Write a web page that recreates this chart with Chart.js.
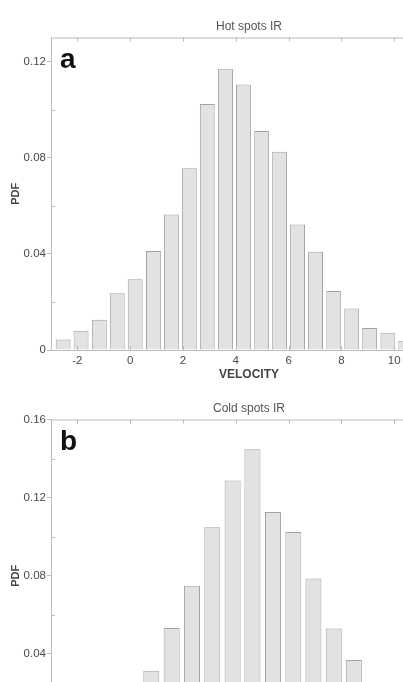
<!DOCTYPE html>
<html>
<head>
<meta charset="utf-8">
<script src="https://cdn.jsdelivr.net/npm/chart.js@4.4.1/dist/chart.umd.min.js"></script>
<style>
  html, body { margin: 0; padding: 0; background: #fff; }
  #wrap { position: relative; width: 403px; height: 682px; overflow: hidden; background: #fff; }
  canvas { position: absolute; left: 0; }
  #hot { top: 0; }
  #cold { top: 382px; }
</style>
</head>
<body>
<div id="wrap">
  <canvas id="hot" width="460" height="390"></canvas>
  <canvas id="cold" width="460" height="390"></canvas>
</div>
<script>
// velocity tick labels (shared by both panels)
const xTicks = [-2, 0, 2, 4, 6, 8, 10, 12];

// panel a - hot spots
const hotVelocity = [-2.54, -1.86, -1.17, -0.49, 0.19, 0.88, 1.56, 2.24, 2.92, 3.61,
                     4.29, 4.98, 5.66, 6.34, 7.02, 7.71, 8.39, 9.07, 9.76, 10.44];
const hotPdf = [0.0044, 0.0080, 0.0126, 0.0236, 0.0294, 0.0412, 0.0564, 0.0756, 0.1023, 0.1170,
                0.1104, 0.0911, 0.0825, 0.0522, 0.0409, 0.0245, 0.0173, 0.0092, 0.0072, 0.0039];
const hotYTicks = [0, 0.04, 0.08, 0.12];
const hotYMinor = [0.02, 0.06, 0.10];

// panel b - cold spots
const coldVelocity = [0.80, 1.57, 2.34, 3.11, 3.88, 4.63, 5.41, 6.18, 6.94, 7.71, 8.47];
const coldPdf = [0.0314, 0.0532, 0.0749, 0.1048, 0.1288, 0.1448, 0.1127, 0.1024, 0.0786, 0.0530, 0.0369];
const coldYTicks = [0, 0.04, 0.08, 0.12, 0.16];
const coldYMinor = [0.02, 0.06, 0.10, 0.14];

Chart.defaults.font.family = "'Liberation Sans', Arial, sans-serif";
Chart.defaults.color = "#555";

const axisGray = "#bbbbbb";

// box frame, inward ticks and the panel letter
const framePlugin = {
    id: "frame",
    afterDraw(chart, args, opts) {
        const ctx = chart.ctx;
        const a = chart.chartArea;
        const x = chart.scales.x, y = chart.scales.y;
        ctx.save();
        ctx.strokeStyle = axisGray;
        ctx.lineWidth = 1;
        ctx.beginPath();
        ctx.moveTo(a.left, a.top + 0.5);
        ctx.lineTo(a.right, a.top + 0.5);
        ctx.moveTo(a.right - 0.5, a.top);
        ctx.lineTo(a.right - 0.5, a.bottom);
        xTicks.forEach(v => {
            const px = Math.round(x.getPixelForValue(v)) + 0.5;
            ctx.moveTo(px, a.bottom);
            ctx.lineTo(px, a.bottom - 4);
            ctx.moveTo(px, a.top);
            ctx.lineTo(px, a.top + 4);
        });
        opts.minor.forEach(v => {
            const py = Math.round(y.getPixelForValue(v)) + 0.5;
            ctx.moveTo(a.left, py);
            ctx.lineTo(a.left + 4, py);
        });
        ctx.stroke();
        ctx.fillStyle = "#111";
        ctx.font = "bold 28px 'Liberation Sans', Arial, sans-serif";
        ctx.textBaseline = "alphabetic";
        ctx.fillText(opts.letter, a.left + 9, a.top + 30);
        ctx.restore();
    }
};

function makePanel(id, title, letter, vel, pdf, yMax, yTicks, yMinor, barPct) {
    let ctx = document.getElementById(id).getContext("2d");
    return new Chart(ctx, {
        type: "bar",
        data: {
            datasets: [
                {
                    data: vel.map((v, i) => ({x: v, y: pdf[i]})),
                    backgroundColor: "#e2e2e2",
                    borderColor: "#a2a2a2",
                    borderWidth: 1,
                    barPercentage: barPct,
                    categoryPercentage: 1,
                },
            ],
        },
        options: {
            responsive: false,
            animation: false,
            devicePixelRatio: 1,
            layout: {padding: {left: 0, right: 13, top: 0, bottom: 0}},
            plugins: {
                legend: {display: false},
                tooltip: {enabled: false},
                title: {
                    display: true,
                    text: title,
                    fullSize: false,
                    color: "#555",
                    font: {size: 12, weight: "normal"},
                    padding: {top: 19.8, bottom: 3.3},
                },
                frame: {letter: letter, minor: yMinor},
            },
            scales: {
                x: {
                    type: "linear",
                    min: -3,
                    max: 12,
                    offset: false,
                    grid: {display: false, drawTicks: false, offset: false},
                    border: {display: true, color: axisGray, width: 1},
                    ticks: {
                        font: {size: 11.5},
                        color: "#4a4a4a",
                        padding: 4,
                        maxRotation: 0,
                        autoSkip: false,
                    },
                    afterBuildTicks: s => { s.ticks = xTicks.map(v => ({value: v})); },
                    afterFit: s => { s.height = 40; s.paddingLeft = 0; s.paddingRight = 0; },
                    title: {
                        display: true,
                        text: "VELOCITY",
                        color: "#444",
                        font: {size: 12, weight: "bold"},
                        padding: {top: 0, bottom: 8},
                    },
                },
                y: {
                    min: 0,
                    max: yMax,
                    grid: {
                        drawOnChartArea: false,
                        drawTicks: true,
                        tickLength: 4,
                        color: axisGray,
                    },
                    border: {display: true, color: axisGray, width: 1},
                    ticks: {
                        font: {size: 11.5},
                        color: "#4a4a4a",
                        padding: 1,
                        callback: v => v === 0 ? "0" : v.toFixed(2),
                    },
                    afterBuildTicks: s => { s.ticks = yTicks.map(v => ({value: v})); },
                    afterFit: s => { s.width = 51; s.paddingTop = 0; s.paddingBottom = 0; },
                    title: {
                        display: true,
                        text: "PDF",
                        color: "#444",
                        font: {size: 11, weight: "bold"},
                        padding: {top: 9.4, bottom: 0},
                    },
                },
            },
        },
        plugins: [framePlugin],
    });
}

let hotChart = makePanel("hot", "Hot spots IR", "a", hotVelocity, hotPdf, 0.13, hotYTicks, hotYMinor, 0.83);
let coldChart = makePanel("cold", "Cold spots IR", "b", coldVelocity, coldPdf, 0.16, coldYTicks, coldYMinor, 0.81);
</script>
</body>
</html>
